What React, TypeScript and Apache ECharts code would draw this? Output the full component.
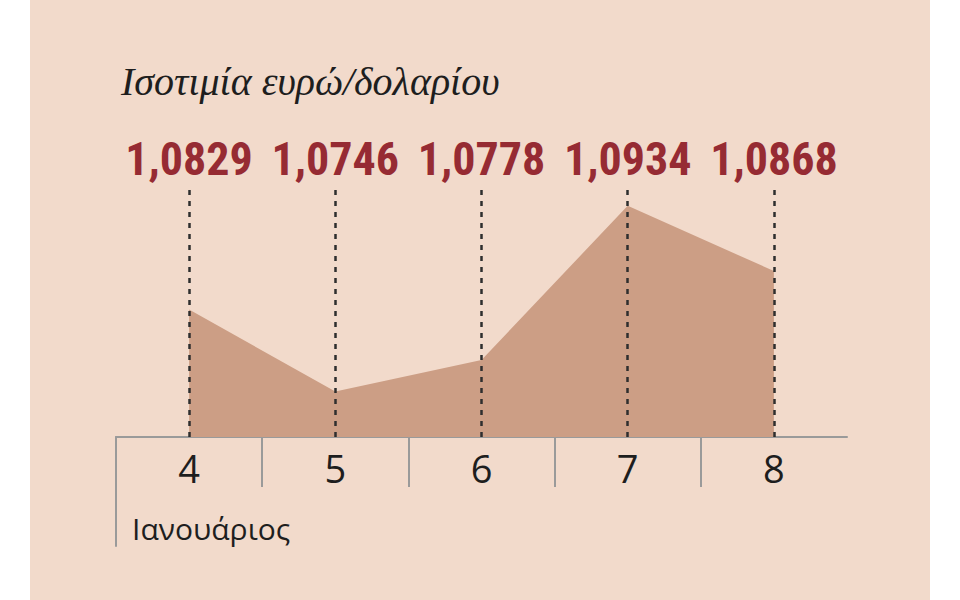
import { useEffect, useRef } from 'react';
import * as echarts from 'echarts';

const days = ['4', '5', '6', '7', '8'];
const rates = [1.0829, 1.0746, 1.0778, 1.0934, 1.0868];
const chartTitle = 'Ισοτιμία ευρώ/δολαρίου';
const monthLabel = 'Ιανουάριος';

const fmtRate = (v: number) => v.toFixed(4).replace('.', ',');

function App() {
  const chartRef = useRef<HTMLDivElement>(null);

  useEffect(() => {
    if (!chartRef.current) return;
    const chart = echarts.init(chartRef.current, null, { renderer: 'svg' });

    chart.setOption({
      animation: false,
      backgroundColor: '#ffffff',
      graphic: {
        elements: [
          {
            type: 'rect',
            z: -10,
            silent: true,
            shape: { x: 30, y: 0, width: 900, height: 600 },
            style: { fill: '#f2dacb' },
          },
        ],
      },
      title: [
        {
          text: chartTitle,
          left: 116,
          top: 56,
          textStyle: {
            fontFamily: "'Liberation Serif', 'DejaVu Serif', serif",
            fontStyle: 'italic',
            fontWeight: 'normal',
            fontSize: 40,
            color: '#1e1e1e',
          },
        },
        {
          text: monthLabel,
          left: 127,
          top: 508,
          textStyle: {
            fontFamily: "'Open Sans', sans-serif",
            fontWeight: 'normal',
            fontSize: 30,
            color: '#1e1e1e',
          },
        },
      ],
      grid: [
        { left: 116, right: 113, top: 190, bottom: 163 },
        { left: 116, right: 113, top: 437, bottom: 113 },
        { left: 116, right: 113, top: 437, bottom: 54 },
      ],
      xAxis: [
        {
          type: 'category',
          gridIndex: 0,
          data: days,
          boundaryGap: true,
          axisLine: { show: true, lineStyle: { color: '#9a9a9a', width: 2 } },
          axisTick: { show: false },
          axisLabel: {
            interval: 0,
            margin: 12,
            fontFamily: "'Open Sans', sans-serif",
            fontSize: 38,
            color: '#1e1e1e',
          },
          splitLine: { show: false },
        },
        {
          type: 'category',
          gridIndex: 0,
          position: 'top',
          data: rates.map(fmtRate),
          boundaryGap: true,
          axisLine: { show: false },
          axisTick: { show: false },
          axisLabel: {
            interval: 0,
            margin: 8,
            fontFamily: "'Liberation Sans Narrow', 'Roboto Condensed', Roboto, sans-serif",
            fontWeight: 'bold',
            fontSize: 46,
            color: '#962b33',
          },
        },
        {
          type: 'category',
          gridIndex: 1,
          data: days,
          boundaryGap: true,
          axisLine: { show: false },
          axisTick: { show: false },
          axisLabel: { show: false },
          splitLine: {
            show: true,
            interval: 0,
            showMinLine: false,
            showMaxLine: false,
            lineStyle: { color: '#9a9a9a', width: 2 },
          },
        },
        {
          type: 'category',
          gridIndex: 2,
          data: days,
          show: false,
        },
      ],
      yAxis: [
        {
          type: 'value',
          gridIndex: 0,
          min: 1.07,
          max: 1.095,
          show: false,
          splitLine: { show: false },
        },
        { type: 'value', gridIndex: 1, show: false },
        {
          type: 'value',
          gridIndex: 2,
          show: true,
          axisLine: { show: true, lineStyle: { color: '#9a9a9a', width: 2 } },
          axisTick: { show: false },
          axisLabel: { show: false },
          splitLine: { show: false },
        },
      ],
      series: [
        {
          type: 'line',
          xAxisIndex: 0,
          yAxisIndex: 0,
          data: rates,
          symbol: 'none',
          lineStyle: { width: 0 },
          areaStyle: { color: '#cc9e85', opacity: 1, origin: 'start' },
          markLine: {
            silent: true,
            symbol: 'none',
            label: { show: false },
            lineStyle: { color: '#2e2e2e', width: 2.5, type: [5, 6] },
            data: days.map((_, i) => ({ xAxis: i })),
          },
          z: 2,
        },
      ],
    });

    return () => chart.dispose();
  }, []);

  return (
    <div
      ref={chartRef}
      style={{ position: 'fixed', left: 0, top: 0, width: '960px', height: '600px' }}
    />
  );
}

export default App;
